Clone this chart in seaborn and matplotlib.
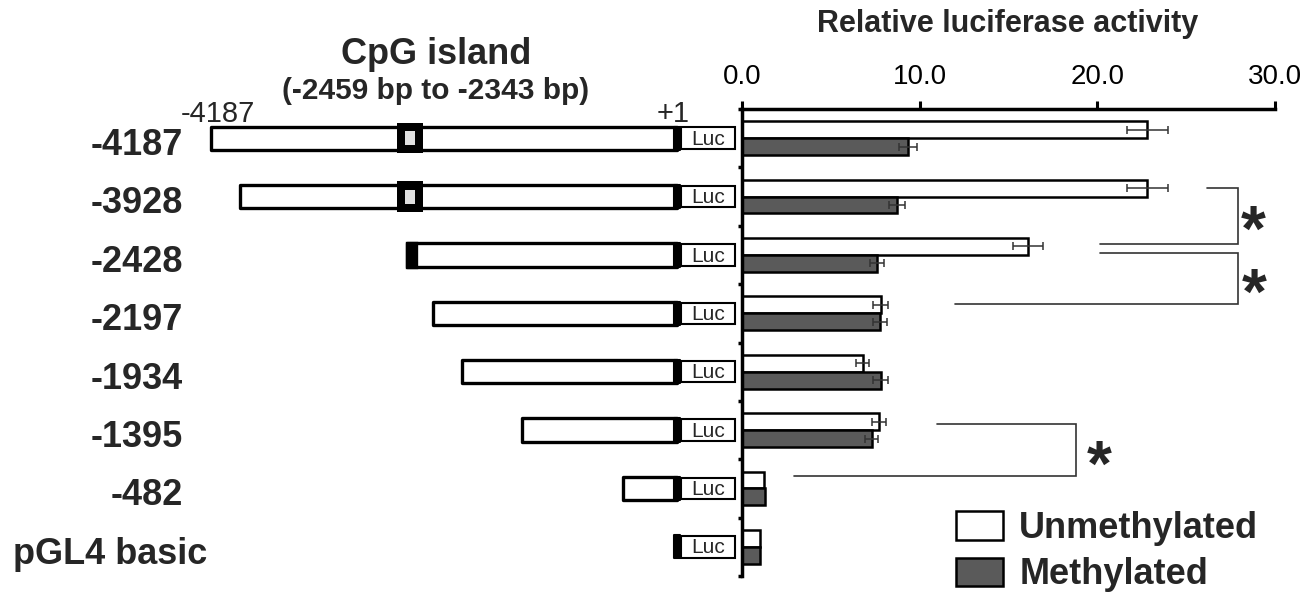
import numpy as np
import pandas as pd
import matplotlib
matplotlib.use('Agg')
import matplotlib.pyplot as plt
from matplotlib.patches import Rectangle, Patch
from matplotlib.transforms import blended_transform_factory
import seaborn as sns

# promoter constructs (top to bottom)
constructs = ['-4187', '-3928', '-2428', '-2197', '-1934', '-1395', '-482', 'pGL4 basic']
construct_start = [-4187, -3928, -2428, -2197, -1934, -1395, -482, 0]
cpg_island = [-2459, -2343]

# relative luciferase activity
unmethylated = [22.8, 22.8, 16.1, 7.8, 6.8, 7.7, 1.22, 0.99]
unmethylated_err = [1.15, 1.15, 0.82, 0.40, 0.37, 0.40, 0.0, 0.0]
methylated = [9.35, 8.7, 7.6, 7.75, 7.8, 7.3, 1.28, 1.0]
methylated_err = [0.50, 0.45, 0.37, 0.40, 0.40, 0.38, 0.0, 0.0]
status = ['Unmethylated', 'Methylated']
x_ticks = [0, 10, 20, 30]

# significance brackets
sig_y_top = [0.855, 1.97, 4.90]
sig_y_bottom = [1.81, 2.84, 5.79]
sig_x_top = [26.2, 20.15, 11.0]
sig_x_bottom = [20.15, 12.0, 2.95]
sig_x_right = [27.9, 27.9, 18.8]
sig_star_x = [28.8, 28.85, 20.1]

W, H = 1312, 592
DARK = '#5a5a5a'
BP_PX = 0.1112      # pixels per bp in the schematic
ZERO_PX = 677       # pixel position of +1

sns.set_theme(style='white')
plt.rcParams['font.family'] = ['Liberation Sans', 'DejaVu Sans']


def px_box(x0, y0, x1, y1):
    return [x0 / W, 1 - y1 / H, (x1 - x0) / W, (y1 - y0) / H]


fig = plt.figure(figsize=(W / 100, H / 100), dpi=100)
ax = fig.add_axes(px_box(742, 109, 1275, 576))
ax_c = fig.add_axes(px_box(212, 109, 741, 576))

# ---- bar chart ----
df = pd.DataFrame({
    'construct': constructs * 2,
    'activity': unmethylated + methylated,
    'status': [status[0]] * len(constructs) + [status[1]] * len(constructs),
})
sns.barplot(data=df, y='construct', x='activity', hue='status', order=constructs,
            hue_order=status, palette=['#ffffff', DARK], saturation=1, width=0.58,
            edgecolor='black', linewidth=1.8, errorbar=None, legend=False, ax=ax)

for cont, vals, errs in zip(ax.containers, [unmethylated, methylated],
                            [unmethylated_err, methylated_err]):
    for bar, v, e in zip(cont, vals, errs):
        if e > 0:
            ax.errorbar(v, bar.get_y() + bar.get_height() / 2, xerr=e, fmt='none',
                        ecolor='#333333', elinewidth=1.1, capsize=3, capthick=1.1)

ax.set_xlim(0, 30)
ax.set_ylim(len(constructs) - 0.5, -0.5)
ax.xaxis.tick_top()
ax.set_xticks(x_ticks)
ax.set_xticklabels([f'{t:.1f}' for t in x_ticks])
ax.set_yticks([])
ax.set_yticks(np.arange(-0.5, len(constructs), 1), minor=True)
ax.tick_params(axis='x', direction='out', length=6, width=2.2, labelsize=20, pad=8,
               colors='black', top=True, bottom=False)
ax.tick_params(axis='y', which='minor', direction='out', length=3, width=2.5,
               left=True, colors='black')
ax.set_xlabel('')
ax.set_ylabel('')
for side in ['bottom', 'right']:
    ax.spines[side].set_visible(False)
for side in ['top', 'left']:
    ax.spines[side].set_linewidth(2.5)
    ax.spines[side].set_color('black')

# brackets with stars
for yt, yb, xt, xb, xr, xs in zip(sig_y_top, sig_y_bottom, sig_x_top, sig_x_bottom,
                                  sig_x_right, sig_star_x):
    ax.plot([xt, xr, xr, xb], [yt, yt, yb, yb], color='#333333', lw=1.2,
            clip_on=False, solid_joinstyle='miter')
    ax.annotate('*', (xs, (yt + yb) / 2 - 0.02), xytext=(0, -0.57 * 46),
                textcoords='offset points', ha='center', va='baseline',
                fontsize=46, fontweight='bold', annotation_clip=False)

ax.legend(handles=[Patch(facecolor='#ffffff', edgecolor='black', linewidth=1.8),
                   Patch(facecolor=DARK, edgecolor='black', linewidth=1.8)],
          labels=status, loc='upper left', bbox_to_anchor=(956 / W, 1 - 511 / H),
          bbox_transform=fig.transFigure, frameon=False, borderpad=0,
          borderaxespad=0, handlelength=1.3, handleheight=0.83, handletextpad=0.45,
          labelspacing=0.31, prop={'size': 26, 'weight': 'bold'})

# ---- construct diagrams ----
ax_c.set_xlim((212 - ZERO_PX) / BP_PX, (741 - ZERO_PX) / BP_PX)
ax_c.set_ylim(len(constructs) - 0.5, -0.5)
ax_c.axis('off')

box_h, luc_h = 0.40, 0.37
for i, (name, start) in enumerate(zip(constructs, construct_start)):
    if start < 0:
        ax_c.add_patch(Rectangle((start, i - box_h / 2), -start, box_h, facecolor='white',
                                 edgecolor='black', lw=2.4, joinstyle='round', clip_on=False))
    if start <= cpg_island[0]:
        ax_c.add_patch(Rectangle((cpg_island[0] - 55, i - 0.26), cpg_island[1] - cpg_island[0] + 110,
                                 0.52, facecolor='black', edgecolor='none'))
        ax_c.add_patch(Rectangle((cpg_island[0] + 9, i - 0.12), cpg_island[1] - cpg_island[0] - 18,
                                 0.24, facecolor='#e0e0e0', edgecolor='none'))
    elif start < cpg_island[1]:
        ax_c.add_patch(Rectangle((start, i - box_h / 2), cpg_island[1] - start, box_h,
                                 facecolor='black', edgecolor='black', lw=2.4))
    ax_c.add_patch(Rectangle((-30, i - box_h / 2), 60, box_h, facecolor='black',
                             edgecolor='black', lw=1.5, joinstyle='round'))
    ax_c.add_patch(Rectangle((40, i - luc_h / 2), 480, luc_h, facecolor='white',
                             edgecolor='black', lw=1.5))
    ax_c.text(280, i + 0.02, 'Luc', ha='center', va='center', fontsize=15)

label_tf = blended_transform_factory(fig.transFigure, ax_c.transData)
label_right = [183] * 7 + [207]
for i, (name, xr) in enumerate(zip(constructs, label_right)):
    fig.text(xr / W, i + 0.29, name, transform=label_tf, ha='right', va='baseline',
             fontsize=26, fontweight='bold')

ax_c.annotate(constructs[0], (construct_start[0], -0.27), xytext=(4.5, 0),
              textcoords='offset points', ha='center', va='baseline', fontsize=21,
              annotation_clip=False)
ax_c.annotate('+1', (0, -0.27), xytext=(-3, 0), textcoords='offset points',
              ha='center', va='baseline', fontsize=21, annotation_clip=False)

fig.text(436 / W, 1 - 55 / H, 'CpG island', ha='center', va='center',
         fontsize=26, fontweight='bold')
fig.text(436 / W, 1 - 91 / H, f'({cpg_island[0]} bp to {cpg_island[1]} bp)',
         ha='center', va='center', fontsize=21.5, fontweight='bold')
fig.text(1008 / W, 1 - 24 / H, 'Relative luciferase activity', ha='center', va='center',
         fontsize=22, fontweight='bold')

fig.savefig('out.png', dpi=100)
